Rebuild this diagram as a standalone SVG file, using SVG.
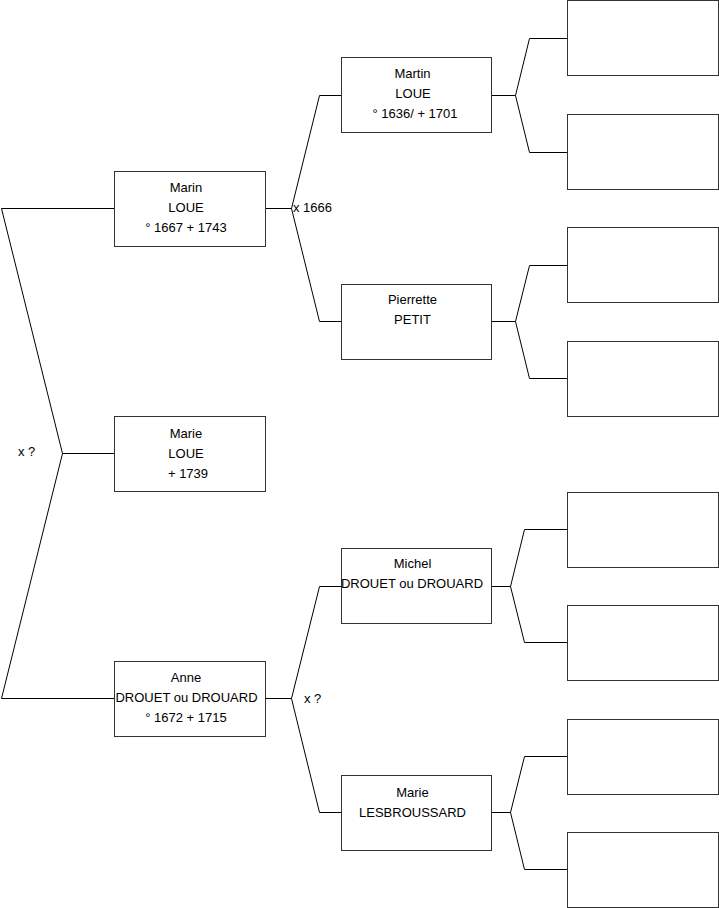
<svg xmlns="http://www.w3.org/2000/svg" width="719" height="908" viewBox="0 0 719 908">
<style>
.box{fill:#fff;stroke:#333;stroke-width:1}
.c{fill:none;stroke:#000;stroke-width:1}
text{font-family:"Liberation Sans",Arial,sans-serif;font-size:13px;fill:#000}
.m{text-anchor:middle}
</style>
<rect width="719" height="908" fill="#fff"/>
<g id="connectors">
<path class="c" d="M1.5,208.5H114.5M1.5,208.5L62.5,453.5L1.5,698.5H114.5M62.5,453.5H114.5"/>
<path class="c" d="M265.5,208.5H291.5L319.5,95.5H341.5M291.5,208.5L319.5,321.5H341.5"/>
<path class="c" d="M265.5,698.5H291.5L319.5,586.5H341.5M291.5,698.5L319.5,812.5H341.5"/>
<path class="c" d="M491.5,95.5H515.5L529.5,38.5H567.5M515.5,95.5L529.5,152.5H567.5"/>
<path class="c" d="M491.5,321.5H515.5L529.5,265.5H567.5M515.5,321.5L529.5,378.5H567.5"/>
<path class="c" d="M491.5,586.5H510.5L524.5,529.5H567.5M510.5,586.5L524.5,642.5H567.5"/>
<path class="c" d="M491.5,812.5H510.5L524.5,756.5H567.5M510.5,812.5L524.5,869.5H567.5"/>
<text x="18" y="456">x ?</text>
<text x="293" y="212">x 1666</text>
<text x="304" y="703">x ?</text>
</g>
<g id="marin">
<rect class="box" x="114.5" y="171.5" width="151" height="75"/>
<text class="m" x="186" y="192">Marin</text>
<text class="m" x="186" y="212">LOUE</text>
<text class="m" x="186" y="232">° 1667 + 1743</text>
</g>
<g id="marie">
<rect class="box" x="114.5" y="416.5" width="151" height="75"/>
<text class="m" x="186" y="438">Marie</text>
<text class="m" x="186" y="458">LOUE</text>
<text class="m" x="188" y="478">+ 1739</text>
</g>
<g id="anne">
<rect class="box" x="114.5" y="661.5" width="151" height="75"/>
<text class="m" x="186" y="682">Anne</text>
<text class="m" x="186.5" y="702">DROUET ou DROUARD</text>
<text class="m" x="186" y="722">° 1672 + 1715</text>
</g>
<g id="martin">
<rect class="box" x="341.5" y="57.5" width="150" height="75"/>
<text class="m" x="412.5" y="78">Martin</text>
<text class="m" x="413" y="98">LOUE</text>
<text class="m" x="415" y="118">° 1636/ + 1701</text>
</g>
<g id="pierrette">
<rect class="box" x="341.5" y="284.5" width="150" height="75"/>
<text class="m" x="412.5" y="304">Pierrette</text>
<text class="m" x="412.5" y="324">PETIT</text>
</g>
<g id="michel">
<rect class="box" x="341.5" y="548.5" width="150" height="75"/>
<text class="m" x="412.5" y="568">Michel</text>
<text class="m" x="412" y="588">DROUET ou DROUARD</text>
</g>
<g id="marie-lesbroussard">
<rect class="box" x="341.5" y="775.5" width="150" height="75"/>
<text class="m" x="412.5" y="797">Marie</text>
<text class="m" x="412.5" y="817">LESBROUSSARD</text>
</g>
<g id="gp1"><rect class="box" x="567.5" y="0.5" width="151" height="75"/></g>
<g id="gp2"><rect class="box" x="567.5" y="114.5" width="151" height="75"/></g>
<g id="gp3"><rect class="box" x="567.5" y="227.5" width="151" height="75"/></g>
<g id="gp4"><rect class="box" x="567.5" y="341.5" width="151" height="75"/></g>
<g id="gp5"><rect class="box" x="567.5" y="492.5" width="151" height="75"/></g>
<g id="gp6"><rect class="box" x="567.5" y="605.5" width="151" height="75"/></g>
<g id="gp7"><rect class="box" x="567.5" y="719.5" width="151" height="75"/></g>
<g id="gp8"><rect class="box" x="567.5" y="832.5" width="151" height="75"/></g>
</svg>
